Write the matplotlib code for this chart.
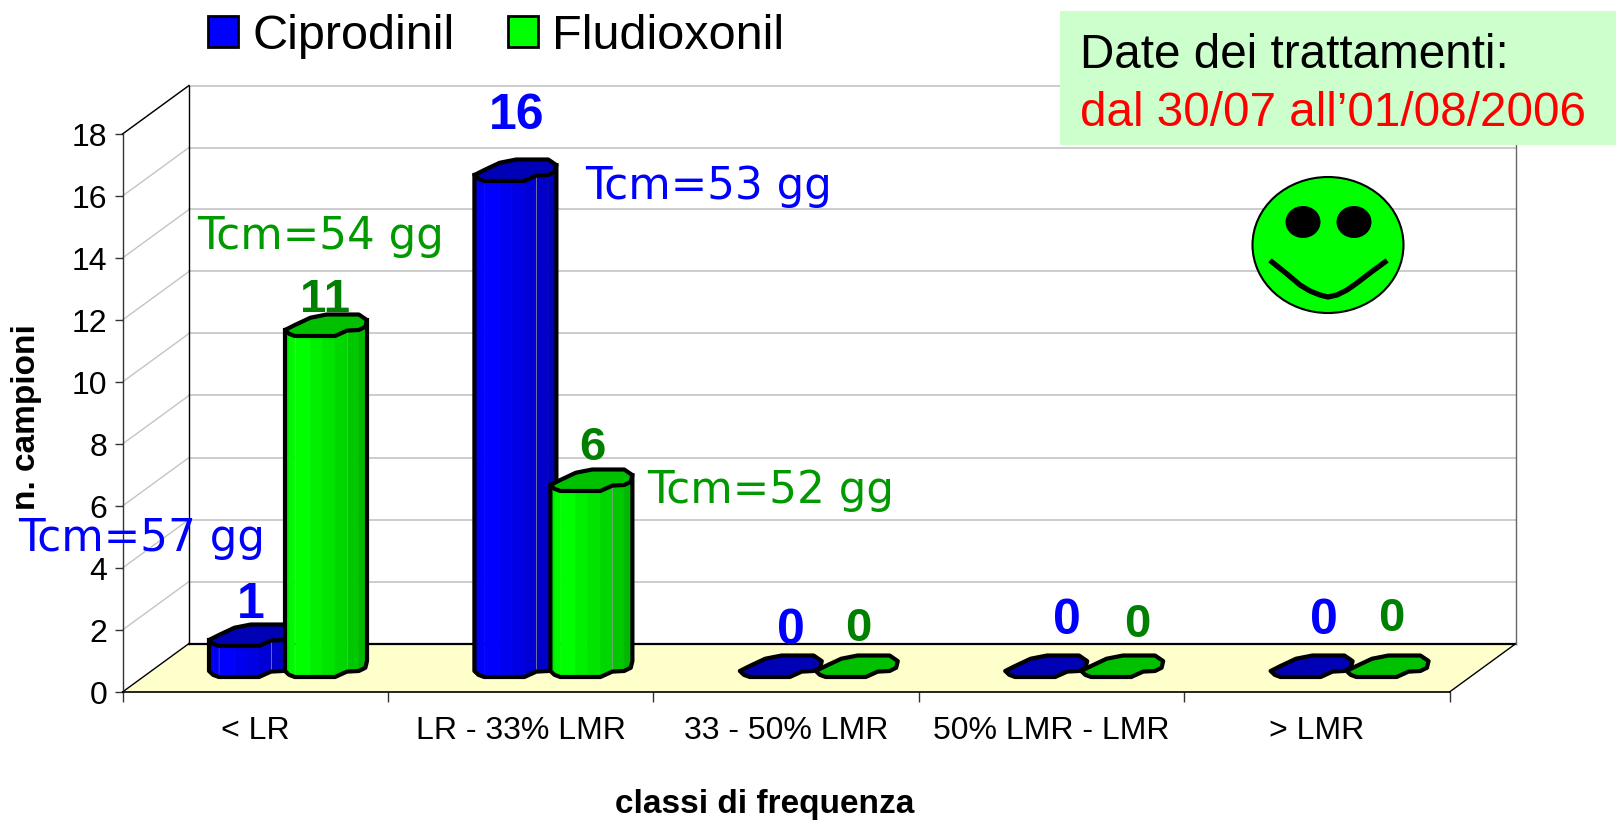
import matplotlib
matplotlib.use('Agg')
import matplotlib.pyplot as plt
from matplotlib.patches import Ellipse, Patch, Polygon, Rectangle

# %% Data
categories = ['< LR', 'LR - 33% LMR', '33 - 50% LMR', '50% LMR - LMR', '> LMR']
ciprodinil = [1, 16, 0, 0, 0]
fludioxonil = [11, 6, 0, 0, 0]
y_ticks = list(range(0, 20, 2))

W, H = 1616, 821
# piano frontale del grafico (pixel)
X0, X1, Y0, Y18 = 122.5, 1449.5, 692, 134
PX_X = (X1 - X0) / 5
PX_Y = (Y0 - Y18) / 18
DX = 66.5 / PX_X   # profondita' 3D in unita' dati
DY = 48.5 / PX_Y

BAR_W = 82 / PX_X
BAR_GAP = 76 / PX_X
BAR_START = 86.5 / PX_X
BASE = 15 / PX_Y
FOOT = 21.5 / PX_Y

# contorno della colonna (u lungo x, v in profondita')
arc = [(0, .28), (.05, .1), (.12, 0), (.3, 0), (.45, 0), (.61, 0), (.755, .25), (.9, .28), (.98, .43), (1, .74)]
back = [(.9, 1), (.51, 1), (.31, .85), (.12, .51)]

blue_faces = ['#0000e6', '#0000f8', '#0000ff', '#0000f0', '#0000e4', '#0000d6', '#0000c8', '#0000b8', '#0000b0']
green_faces = ['#00e600', '#00f800', '#00ff00', '#00f000', '#00e400', '#00d600', '#00c800', '#00b800', '#00b000']

plt.rcParams['font.family'] = ['Liberation Sans', 'DejaVu Sans']

fig = plt.figure(figsize=(W / 100, H / 100), dpi=100)
ax = fig.add_axes([X0 / W, 1 - Y0 / H, (X1 - X0) / W, (Y0 - Y18) / H])
ax.set_xlim(0, 5)
ax.set_ylim(0, 18)
ax.patch.set_visible(False)
for s in ['top', 'right']:
    ax.spines[s].set_visible(False)
ax.spines['left'].set_color('#333333')
ax.spines['left'].set_linewidth(1.0)
ax.spines['bottom'].set_color('black')
ax.spines['bottom'].set_linewidth(1.2)

# ticks
ax.set_yticks(y_ticks)
ax.tick_params(axis='y', labelsize=23, length=6, width=1, pad=5, color='#333333')
ax.set_xticks(range(6))
ax.set_xticklabels([])
ax.tick_params(axis='x', which='major', length=7, width=1, color='#333333')
ax.set_xticks([i + .5 for i in range(5)], minor=True)
ax.set_xticklabels(categories, minor=True)
ax.tick_params(axis='x', which='minor', length=0, labelsize=23, pad=17)

# pareti e griglia
ax.add_patch(Polygon([(0, 0), (5, 0), (5 + DX, DY), (DX, DY)], closed=True, fc='#ffffcc', ec='none',
                     clip_on=False, zorder=1))
for v in y_ticks[1:]:
    ax.plot([0, DX], [v, v + DY], color='#c4c4c4', lw=1, clip_on=False, zorder=1)
    ax.plot([DX, 5 + DX], [v + DY, v + DY], color='#c4c4c4', lw=1.2, clip_on=False, zorder=1)
ax.plot([DX, 5 + DX], [DY, DY], color='black', lw=1.6, clip_on=False, zorder=2)
ax.plot([DX, DX], [DY, 18 + DY], color='black', lw=1.0, clip_on=False, zorder=2)
ax.plot([0, DX], [0, DY], color='black', lw=1.0, clip_on=False, zorder=2)
ax.plot([0, DX], [18, 18 + DY], color='black', lw=1.0, clip_on=False, zorder=2)
ax.plot([5, 5 + DX], [0, DY], color='black', lw=1.0, clip_on=False, zorder=2)
ax.plot([5 + DX, 5 + DX], [DY, 18 + DY], color='#666666', lw=1.0, clip_on=False, zorder=2)


def draw_bar(x0, val, faces, top_col, z):
    def p(u, v, h):
        return (x0 + u * BAR_W, BASE + v * FOOT + h)
    if val > 0:
        for i, col in enumerate(faces):
            a, b = arc[i], arc[i + 1]
            ax.add_patch(Polygon([p(*a, 0), p(*b, 0), p(*b, val), p(*a, val)], closed=True,
                                 fc=col, ec=col, lw=.5, zorder=z))
        ax.plot(*zip(p(*arc[6], 0), p(*arc[6], val)), color='#9a9a9a', lw=.7, alpha=.7, zorder=z)
        sil = [p(*arc[0], val)] + [p(*a, 0) for a in arc] + [p(*arc[-1], val)]
        ax.plot(*zip(*sil), color='black', lw=3, zorder=z, solid_joinstyle='round')
    top = [p(*a, val) for a in arc] + [p(*b, val) for b in back]
    ax.add_patch(Polygon(top, closed=True, fc=top_col, ec='black', lw=3, zorder=z, joinstyle='round'))


for i in range(len(categories)):
    draw_bar(i + BAR_START, ciprodinil[i], blue_faces, '#0000b4', 3 + i * 2)
    draw_bar(i + BAR_START + BAR_GAP, fludioxonil[i], green_faces, '#00c000', 4 + i * 2)

# titoli assi
ax.set_xlabel('classi di frequenza', fontsize=24, fontweight='bold')
ax.xaxis.set_label_coords((765 - X0) / (X1 - X0), -(804 - Y0) / (Y0 - Y18), transform=ax.transAxes)
ax.xaxis.label.set_va('center')
ax.set_ylabel('n. campioni', fontsize=24, fontweight='bold')
ax.yaxis.set_label_coords((27 - X0) / (X1 - X0), (Y0 - 417) / (Y0 - Y18), transform=ax.transAxes)
ax.yaxis.label.set_va('center')

# legenda
handles = [Patch(fc='#0000ff', ec='black', lw=2), Patch(fc='#00ff00', ec='black', lw=2)]
fig.legend(handles, ['Ciprodinil', 'Fludioxonil'], loc='upper left', bbox_to_anchor=(208 / W, 1 - 14 / H),
           ncol=2, frameon=False, fontsize=35, handlelength=.61, handleheight=.61, handletextpad=.3,
           columnspacing=1.1, borderpad=0, borderaxespad=0)

# strato annotazioni in pixel
ov = fig.add_axes([0, 0, 1, 1])
ov.set_xlim(0, W)
ov.set_ylim(H, 0)
ov.axis('off')
ov.patch.set_visible(False)

ov.add_patch(Rectangle((1060, 11), 556, 134, fc='#ccffcc', ec='none'))
ov.text(1080, 55, 'Date dei trattamenti:', fontsize=34.3, color='black', va='center')
ov.text(1080, 114, 'dal 30/07 all’01/08/2006', fontsize=34.3, color='#ff0000', va='center')

tcm_font = 'DejaVu Sans'
ov.text(18, 539, 'Tcm=57 gg', fontsize=31.4, color='#0000ff', va='center', family=tcm_font)
ov.text(197, 236, 'Tcm=54 gg', fontsize=31.4, color='#009900', va='center', family=tcm_font)
ov.text(585, 186, 'Tcm=53 gg', fontsize=31.4, color='#0000ff', va='center', family=tcm_font)
ov.text(647, 491, 'Tcm=52 gg', fontsize=31.4, color='#009900', va='center', family=tcm_font)

# etichette valori
label_blue = [(251, 605), (517, 116), (791, 631), (1067, 621), (1324, 621)]
label_green = [(325, 300), (592, 448), (858, 629), (1137, 625), (1391, 619)]
for (x, y), v in zip(label_blue, ciprodinil):
    ov.text(x, y, str(v), fontsize=36, fontweight='bold', color='#0000ff', ha='center', va='center')
for (x, y), v in zip(label_green, fludioxonil):
    ov.text(x, y, str(v), fontsize=34, fontweight='bold', color='#008000', ha='center', va='center')

# faccina
ov.add_patch(Ellipse((1328, 245), 151, 136, fc='#00ff00', ec='black', lw=1.5))
ov.add_patch(Ellipse((1303, 222), 35, 32, fc='black', ec='none'))
ov.add_patch(Ellipse((1354, 222), 35, 32, fc='black', ec='none'))
mouth_x = [1272, 1287, 1300, 1310, 1320, 1328, 1337, 1347, 1357, 1370, 1385]
mouth_y = [262, 274, 285, 291, 295, 297, 295, 290, 283, 273, 262]
ov.plot(mouth_x, mouth_y, color='black', lw=3.8, solid_joinstyle='round')

fig.savefig('out.png', dpi=100)
